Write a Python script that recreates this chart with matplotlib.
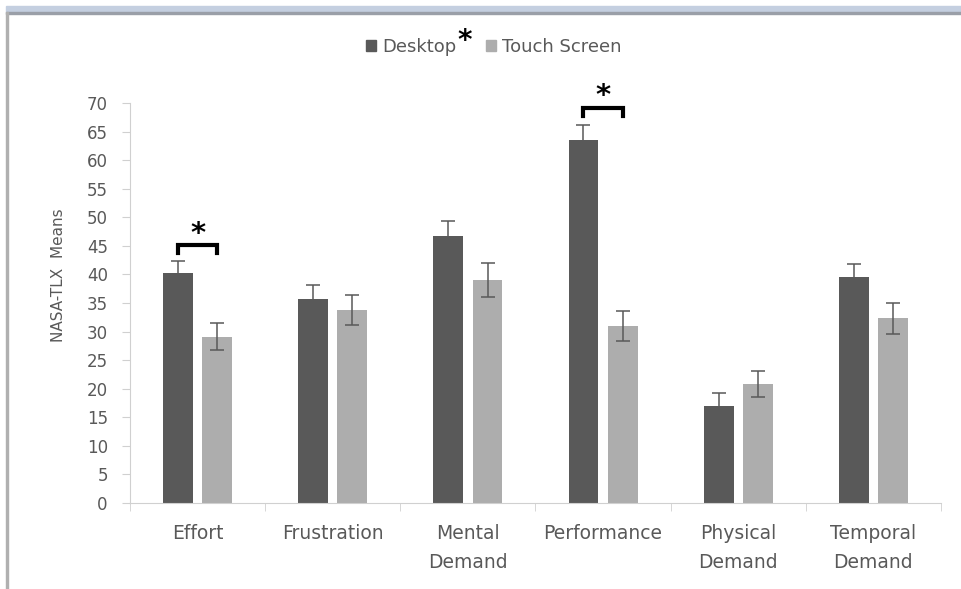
import numpy as np
import matplotlib.pyplot as plt
from matplotlib.patches import Rectangle

# NASA-TLX means per subscale
categories = ["Effort", "Frustration", "Mental\nDemand", "Performance",
              "Physical\nDemand", "Temporal\nDemand"]
desktop = [40.3, 35.7, 46.7, 63.5, 17.0, 39.6]
desktop_err = [2.0, 2.5, 2.6, 2.6, 2.3, 2.3]
touch = [29.1, 33.8, 39.0, 31.0, 20.8, 32.3]
touch_err = [2.4, 2.6, 3.0, 2.6, 2.3, 2.7]
# significant pairs: category index, bracket height, star height
sig_cat = [0, 3]
sig_bracket = [45.2, 69.2]
sig_star = [47.0, 71.2]

plt.rcParams['font.family'] = ['DejaVu Sans']
grey_txt = "#595959"
c_desk = "#595959"
c_touch = "#ADADAD"
axis_col = "#D0D0D0"

fig = plt.figure(figsize=(9.62, 5.89), dpi=100)

# window-like frame around the chart
fig.patches.append(Rectangle((6/962, 1-12/589), 1, 6/589, transform=fig.transFigure,
                             color="#C4CFE0", zorder=0))
fig.patches.append(Rectangle((6/962, 1-14/589), 1, 2/589, transform=fig.transFigure,
                             color="#9A9FA8", zorder=0))
fig.patches.append(Rectangle((6/962, 0), 2/962, 1-12/589, transform=fig.transFigure,
                             color="#B0B0B0", zorder=0))

ax = fig.add_axes([130/962, 1-503/589, (941-130)/962, 400/589])

x = np.arange(len(categories))
w = 0.22
off = 0.145
ekw = dict(ecolor=grey_txt, elinewidth=1.1, capthick=1.1)
ax.bar(x - off, desktop, w, color=c_desk, yerr=desktop_err, capsize=4.7,
       error_kw=ekw, label="Desktop")
ax.bar(x + off, touch, w, color=c_touch, yerr=touch_err, capsize=4.7,
       error_kw=ekw, label="Touch Screen")

# significance brackets
for i, yb, ys in zip(sig_cat, sig_bracket, sig_star):
    ax.plot([i - off, i - off, i + off, i + off], [yb - 1.5, yb, yb, yb - 1.5],
            color="black", lw=3, solid_joinstyle="miter", clip_on=False, zorder=5)
    ax.text(i, ys, "*", ha="center", va="center", fontsize=21, fontweight="bold",
            color="black", clip_on=False)

ax.set_xlim(-0.5, len(categories) - 0.5)
ax.set_ylim(0, 70)
ax.set_yticks(np.arange(0, 71, 5))
ax.set_xticks(x)
ax.set_xticklabels(categories, color=grey_txt, fontsize=13.5, linespacing=1.65)
ax.set_xticks(np.arange(-0.5, len(categories), 1), minor=True)
ax.tick_params(axis="x", which="major", length=0, pad=15)
ax.tick_params(axis="x", which="minor", length=6, color=axis_col, direction="out")
ax.tick_params(axis="y", length=6, color=axis_col, labelcolor=grey_txt,
               labelsize=12, pad=10)
for s in ["top", "right"]:
    ax.spines[s].set_visible(False)
for s in ["left", "bottom"]:
    ax.spines[s].set_color(axis_col)
ax.set_ylabel("NASA-TLX  Means", color=grey_txt, fontsize=11)
ax.yaxis.set_label_coords(-64/811, 0.57)

handles = [Rectangle((0, 0), 1, 1, color=c_desk), Rectangle((0, 0), 1, 1, color=c_touch)]
leg = fig.legend(handles, ["Desktop", "Touch Screen"], loc="center",
                 bbox_to_anchor=(494/962, 1-47/589), ncol=2, frameon=False,
                 fontsize=13, handlelength=0.55, handleheight=0.55,
                 handletextpad=0.35, columnspacing=1.6)
for t in leg.get_texts():
    t.set_color(grey_txt)
fig.text(465/962, 1-41/589, "*", ha="center", va="center", fontsize=20,
         fontweight="bold", color="black")

plt.savefig("out.png", dpi=100)
